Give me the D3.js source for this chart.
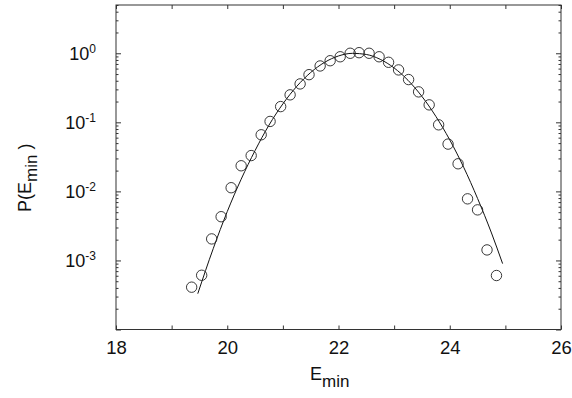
<!DOCTYPE html>
<html>
<head>
<meta charset="utf-8">
<script src="https://cdn.jsdelivr.net/npm/d3@7"></script>
<style>
  body { margin: 0; background: #fff; }
  text { font-family: "Liberation Sans", Arial, sans-serif; fill: #111; }
</style>
</head>
<body>
<svg id="chart"></svg>
<script>
// measured points (circles)
const eData = [19.36, 19.54, 19.72, 19.89, 20.07, 20.25, 20.43, 20.61, 20.77, 20.96,
               21.13, 21.31, 21.47, 21.67, 21.85, 22.03, 22.21, 22.37, 22.55, 22.73,
               22.90, 23.08, 23.26, 23.44, 23.63, 23.80, 23.97, 24.15, 24.32, 24.50,
               24.67, 24.84];
const pData = [4.1e-4, 6.1e-4, 2.05e-3, 4.3e-3, 1.13e-2, 2.35e-2, 3.3e-2, 6.6e-2, 0.103, 0.169,
               0.25, 0.36, 0.49, 0.655, 0.78, 0.89, 1.0, 1.02, 1.0, 0.89,
               0.74, 0.574, 0.416, 0.276, 0.179, 0.092, 0.0484, 0.0251, 7.8e-3, 5.4e-3,
               1.42e-3, 6.05e-4];

// fitted curve
const eFit = [19.47, 19.75, 20.0, 20.25, 20.5, 20.75, 21.0, 21.25, 21.5, 21.75, 22.0, 22.25,
              22.5, 22.75, 23.0, 23.25, 23.5, 23.75, 24.0, 24.25, 24.5, 24.75, 24.95];
const pFit = [3.3e-4, 1.5e-3, 5.1e-3, 0.015, 0.039, 0.091, 0.185, 0.332, 0.527, 0.739, 0.914, 0.998,
              0.961, 0.817, 0.613, 0.406, 0.237, 0.122, 0.0557, 0.0224, 7.9e-3, 2.5e-3, 9.0e-4];

const xTicks = [18, 19, 20, 21, 22, 23, 24, 25, 26];
const xLabels = [18, 20, 22, 24, 26];
const yMajor = [1e-4, 1e-3, 1e-2, 1e-1, 1];
const yLabels = [1e-3, 1e-2, 1e-1, 1];

const W = 572, H = 398;
const margin = { top: 5, right: 11, bottom: 68.5, left: 116 };
const width = W - margin.left - margin.right;
const height = H - margin.top - margin.bottom;

const svg = d3.select("#chart").attr("width", W).attr("height", H);
const g = svg.append("g").attr("transform", "translate(" + margin.left + "," + margin.top + ")");

const x = d3.scaleLinear().domain([18, 26]).range([0, width]);
const y = d3.scaleLog().domain([1e-4, 5]).range([height, 0]);

const yMinor = y.ticks().filter(v => yMajor.indexOf(v) < 0);

function styleAxis(sel) {
    sel.select(".domain").remove();
    sel.selectAll("line").attr("stroke", "#333").attr("stroke-width", 1);
}

// x axes (ticks inward)
g.append("g")
    .attr("transform", "translate(0," + height + ")")
    .call(d3.axisBottom(x).tickValues(xTicks).tickSize(-4).tickSizeOuter(0)
        .tickFormat(d => xLabels.indexOf(d) >= 0 ? d : ""))
    .call(styleAxis)
    .call(s => s.selectAll("text").attr("font-size", 18.5).attr("dy", 0).attr("y", 24));

g.append("g")
    .call(d3.axisTop(x).tickValues(xTicks).tickSize(-4).tickSizeOuter(0).tickFormat(""))
    .call(styleAxis);

// y axes, major and minor
g.append("g")
    .call(d3.axisLeft(y).tickValues(yMajor).tickSize(-5).tickSizeOuter(0).tickFormat(""))
    .call(styleAxis);
g.append("g")
    .call(d3.axisLeft(y).tickValues(yMinor).tickSize(-2.5).tickSizeOuter(0).tickFormat(""))
    .call(styleAxis);
g.append("g")
    .attr("transform", "translate(" + width + ",0)")
    .call(d3.axisRight(y).tickValues(yMajor).tickSize(-5).tickSizeOuter(0).tickFormat(""))
    .call(styleAxis);
g.append("g")
    .attr("transform", "translate(" + width + ",0)")
    .call(d3.axisRight(y).tickValues(yMinor).tickSize(-2.5).tickSizeOuter(0).tickFormat(""))
    .call(styleAxis);

// y tick labels 10^n
const yl = g.append("g").selectAll("text")
    .data(yLabels)
    .enter().append("text")
    .attr("x", -20)
    .attr("y", d => y(d) + 7)
    .attr("text-anchor", "end")
    .attr("font-size", 18);
yl.append("tspan").text("10");
yl.append("tspan").attr("font-size", 12).attr("dy", -7)
    .text(d => Math.round(Math.log10(d)) === 0 ? "0" : Math.round(Math.log10(d)));

// frame
g.append("rect")
    .attr("width", width).attr("height", height)
    .attr("fill", "none").attr("stroke", "#333").attr("stroke-width", 1);

// fitted curve
const line = d3.line().x((d, i) => x(eFit[i])).y((d, i) => y(pFit[i])).curve(d3.curveMonotoneX);
g.append("path")
    .datum(pFit)
    .attr("d", line)
    .attr("fill", "none")
    .attr("stroke", "#111")
    .attr("stroke-width", 1);

// data circles
g.selectAll(".pt")
    .data(pData)
    .enter().append("circle")
    .attr("class", "pt")
    .attr("cx", (d, i) => x(eData[i]))
    .attr("cy", d => y(d))
    .attr("r", 5.2)
    .attr("fill", "none")
    .attr("stroke", "#222")
    .attr("stroke-width", 0.9);

// axis titles
const xt = svg.append("text")
    .attr("x", 310)
    .attr("y", 380)
    .attr("font-size", 18);
xt.append("tspan").text("E");
xt.append("tspan").attr("dy", 7).attr("font-size", 17).text("min");

const yt = svg.append("text")
    .attr("transform", "translate(31,212) rotate(-90)")
    .attr("font-size", 18);
yt.append("tspan").text("P(E");
yt.append("tspan").attr("dy", 6).attr("font-size", 17).text("min");
yt.append("tspan").attr("dy", -6).text(" )");
</script>
</body>
</html>
